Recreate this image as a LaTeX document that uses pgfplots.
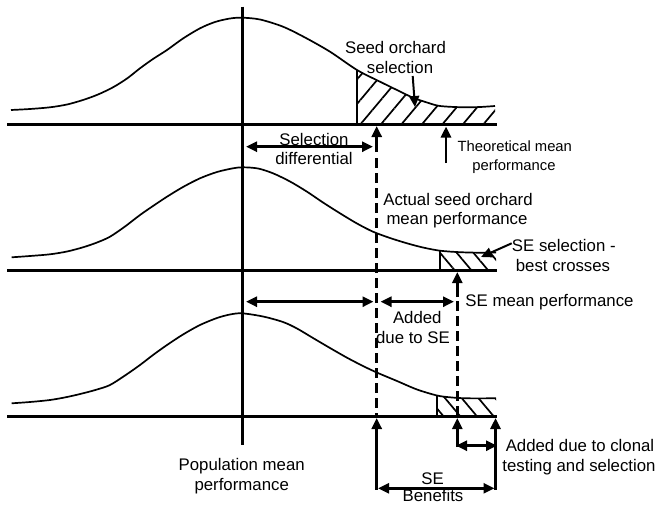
\documentclass[border=0pt]{standalone}
\usepackage{pgfplots}
\pgfplotsset{compat=1.18}
\usepackage{fontspec}
\setmainfont{Liberation Sans}
\usetikzlibrary{arrows.meta,patterns.meta}
\begin{document}
\begin{tikzpicture}[
  t/.style={inner sep=0pt, anchor=base, font=\fontsize{16.8bp}{19.5bp}\selectfont},
  ts/.style={inner sep=0pt, anchor=base, font=\fontsize{14.8bp}{17bp}\selectfont},
  curve/.style={line width=1.7bp, line join=round, black},
  base/.style={line width=3bp, black},
  arr/.style={line width=2.7bp, black},
  tip/.style={-{Triangle[length=11bp,width=10bp]}},
  dtip/.style={{Triangle[length=11bp,width=10bp]}-{Triangle[length=11bp,width=10bp]}},
  dsh/.style={line width=2.7bp, black, dash pattern=on 10bp off 5bp},
]
\begin{axis}[
  width=658bp, height=505bp, scale only axis,
  xmin=0, xmax=658, ymin=0, ymax=505, y dir=reverse,
  axis lines=none, clip=false, no markers,
]
\path (axis cs:0,0) rectangle (axis cs:658,505);
% ---- hatched regions ----
\addplot[draw=none, pattern={Lines[angle=50,distance=15.7bp,line width=1.7bp]}] coordinates {
 (357,124.3) (357,70) (380,81.7) (400,91.5) (413,97.7) (427,102.5) (440,106) (463,107.3) (480,107) (495,106) (495,124.3)} --cycle;
\addplot[draw=none, pattern={Lines[angle=-50,distance=12.8bp,line width=1.7bp]}] coordinates {
 (440,270) (440,250.7) (460,252.2) (480,252.7) (496,252.5) (496,270)} --cycle;
\addplot[draw=none, pattern={Lines[angle=-50,distance=12.8bp,line width=1.7bp]}] coordinates {
 (437,416) (437,395.5) (450,397.3) (463,398.2) (480,398.4) (496,398.2) (496,416)} --cycle;
% ---- curves ----
\addplot[curve, smooth] coordinates {
 (11,110) (30,109) (50,107.3) (67,104.5) (83,100) (98,94.5) (113,87.3) (127,78.5) (140,68.3) (153,59) (167,50) (183,38.5) (200,28.3) (215,22) (230,18.5) (242,17.7) (260,19.5) (283,26.7) (305,37.5) (330,51.7) (357,70) (380,81.7) (400,91.5) (413,97.7) (427,102.5) (440,106) (463,107.3) (480,107) (495,106)};
\addplot[curve, smooth] coordinates {
 (11.7,257.3) (30,256) (50,254.3) (67,251.5) (83,247.3) (97,242.5) (110,236.7) (125,226.5) (140,215) (153,206) (167,196.7) (183,187) (200,178.3) (217,172) (233,168.3) (243,167.3) (258,168.5) (273,173.3) (290,181.5) (307,191.7) (323,202.5) (340,213.3) (357,223.5) (373,231.7) (390,238) (407,243.3) (423,247.5) (440,250.7) (460,252.2) (480,252.7) (496,252.5)};
\addplot[curve, smooth] coordinates {
 (11.7,403.3) (30,402) (50,400) (67,397) (83,393.3) (97,389.5) (110,385) (125,375.5) (140,365) (153,355) (167,345) (183,334.5) (200,325) (217,318) (230,314.5) (242,313.3) (263,316.5) (283,322) (297,328.5) (313,338) (330,348) (347,357.7) (363,366) (377,372.6) (397,381) (417,389.5) (437,395.5) (450,397.3) (463,398.2) (480,398.4) (496,398.2)};
% ---- hatch edges ----
\addplot[line width=2.3bp] coordinates {(357,70) (357,124.3)};
\addplot[line width=2.3bp] coordinates {(440,250.7) (440,270)};
\addplot[line width=2.3bp] coordinates {(437,395.5) (437,416)};
% ---- baselines and mean line ----
\addplot[base] coordinates {(7,124.3) (497,124.3)};
\addplot[base] coordinates {(7,270) (497,270)};
\addplot[base] coordinates {(7,416) (497,416)};
\addplot[base] coordinates {(242,6.7) (242,445)};
% ---- dashed lines ----
\addplot[dsh] coordinates {(376.7,158) (376.7,416)};
\addplot[dsh] coordinates {(457.3,301) (457.3,416)};
% ---- arrows ----
\addplot[arr, tip] coordinates {(376.7,152) (376.7,126)};
\addplot[arr, tip] coordinates {(446,163) (446,126.5)};
\addplot[arr, dtip] coordinates {(246,146.7) (373,146.7)};
\addplot[line width=2bp, tip] coordinates {(412.7,76) (415,107)};
\addplot[line width=2bp, tip] coordinates {(511.7,243.3) (481,257)};
\addplot[arr, tip] coordinates {(457.3,297) (457.3,272)};
\addplot[arr, dtip] coordinates {(246,301.7) (373.5,301.7)};
\addplot[arr, dtip] coordinates {(380.5,301.7) (454,301.7)};
\addplot[arr, tip] coordinates {(376.7,489.5) (376.7,418)};
\addplot[arr, tip] coordinates {(495.5,489.5) (495.5,418)};
\addplot[arr, tip] coordinates {(457.3,447) (457.3,418)};
\addplot[arr, dtip] coordinates {(456,445.7) (497,445.7)};
\addplot[arr, dtip] coordinates {(378,488.3) (494.5,488.3)};
% ---- texts ----
\node[t] at (axis cs:395.5,54) {Seed orchard};
\node[t] at (axis cs:400,73.3) {selection};
\node[t] at (axis cs:314,145) {Selection};
\node[t] at (axis cs:314,164) {differential};
\node[ts] at (axis cs:514.8,151.7) {Theoretical mean};
\node[ts] at (axis cs:514,170) {performance};
\node[t] at (axis cs:458,205.7) {Actual seed orchard};
\node[t] at (axis cs:457,224.3) {mean performance};
\node[t] at (axis cs:563.8,251) {SE selection -};
\node[t] at (axis cs:563,271) {best crosses};
\node[t] at (axis cs:549.5,306.7) {SE mean performance};
\node[t] at (axis cs:417.3,323.3) {Added};
\node[t] at (axis cs:413,343.3) {due to SE};
\node[t] at (axis cs:580,451.7) {Added due to clonal};
\node[t] at (axis cs:579,471.7) {testing and selection};
\node[t] at (axis cs:432.5,484) {SE};
\node[t] at (axis cs:433,501.3) {Benefits};
\node[t] at (axis cs:241.7,470) {Population mean};
\node[t] at (axis cs:241.7,490) {performance};
\end{axis}
\end{tikzpicture}
\end{document}
